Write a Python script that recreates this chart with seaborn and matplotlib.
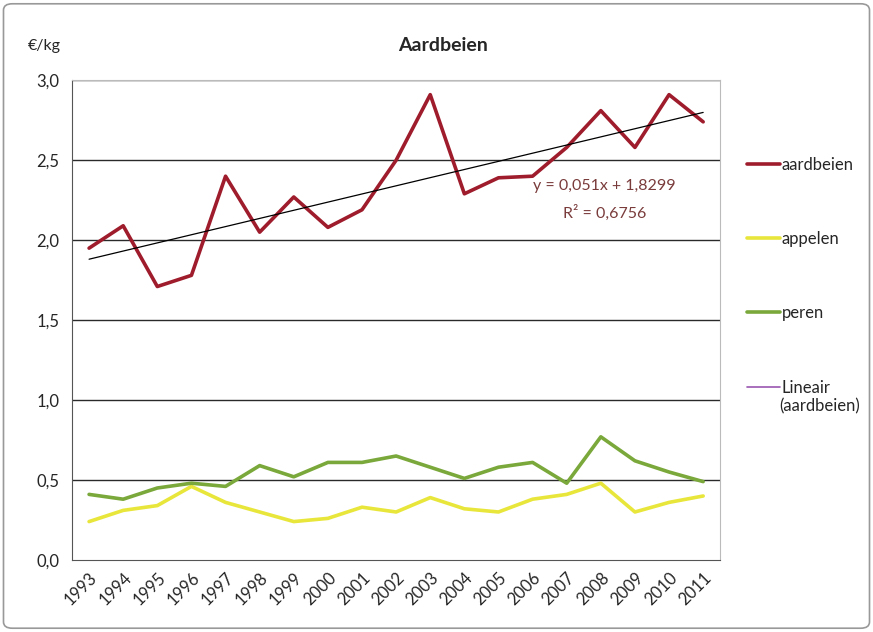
import numpy as np
import pandas as pd
import matplotlib
matplotlib.use("Agg")
import matplotlib.pyplot as plt
import seaborn as sns
from matplotlib.lines import Line2D
from matplotlib.patches import FancyBboxPatch

# Data (prices in euro per kg)
years = [str(y) for y in range(1993, 2012)]
aardbeien = [1.95, 2.09, 1.71, 1.78, 2.40, 2.05, 2.27, 2.08, 2.19, 2.50,
             2.91, 2.29, 2.39, 2.40, 2.58, 2.81, 2.58, 2.91, 2.74]
appelen = [0.24, 0.31, 0.34, 0.46, 0.36, 0.30, 0.24, 0.26, 0.33, 0.30,
           0.39, 0.32, 0.30, 0.38, 0.41, 0.48, 0.30, 0.36, 0.40]
peren = [0.41, 0.38, 0.45, 0.48, 0.46, 0.59, 0.52, 0.61, 0.61, 0.65,
         0.58, 0.51, 0.58, 0.61, 0.48, 0.77, 0.62, 0.55, 0.49]

# trendline from the chart label
slope = 0.051
intercept = 1.8299
r2 = 0.6756

colors = {"aardbeien": "#9e1c2c", "appelen": "#e8e63a", "peren": "#7aa83a"}

df = pd.DataFrame({"jaar": years * 3,
                   "prijs": aardbeien + appelen + peren,
                   "soort": ["aardbeien"] * 19 + ["appelen"] * 19 + ["peren"] * 19})
df["x"] = np.tile(np.arange(len(years)), 3)

sns.set_style("white")
plt.rcParams["font.family"] = ["Lato", "DejaVu Sans"]

fig = plt.figure(figsize=(8.73, 6.32), dpi=100)
ax = fig.add_axes([0.0825, 0.114, 0.7425, 0.759])

# grid lines
for g in np.arange(0.5, 3.01, 0.5):
    ax.axhline(g, color="#2a2a2a", lw=1.0, zorder=1)

sns.lineplot(data=df, x="x", y="prijs", hue="soort", palette=colors,
             linewidth=2.6, ax=ax, legend=False, zorder=3)

xs = np.arange(len(years))
trend = slope * (xs + 1) + intercept
ax.plot(xs, trend, color="black", lw=0.9, zorder=4)

ax.text(15.1, 2.34, "y = 0,051x + 1,8299", color="#7a3b3b", fontsize=11.5, ha="center", va="center")
ax.text(15.1, 2.17, f"R² = {r2:.4f}".replace(".", ","), color="#7a3b3b", fontsize=11.5,
        ha="center", va="center")

ax.set_xlim(-0.5, len(years) - 0.5)
ax.set_ylim(0, 3.0)
ax.set_yticks(np.arange(0, 3.01, 0.5))
ax.set_yticklabels([f"{v:.1f}".replace(".", ",") for v in np.arange(0, 3.01, 0.5)], fontsize=12)
ax.set_xticks(xs)
ax.set_xticklabels(years, rotation=45, ha="right", rotation_mode="anchor", fontsize=12)
ax.set_xticks(np.arange(-0.5, len(years)), minor=True)
ax.tick_params(axis="x", which="major", length=0, pad=7)
ax.tick_params(axis="x", which="minor", length=5, direction="out", color="#444")
ax.tick_params(axis="y", length=5, direction="out", color="#444", pad=4)
ax.set_xlabel("")
ax.set_ylabel("")
for side in ["left", "bottom"]:
    ax.spines[side].set_color("#555")
for side in ["top", "right"]:
    ax.spines[side].set_color("#bbbbbb")

fig.text(0.507, 0.928, "Aardbeien", fontsize=14, fontweight="bold", ha="center", va="center")
fig.text(0.032, 0.928, "€/kg", fontsize=11.5, ha="left", va="center")

handles = [Line2D([], [], color=colors["aardbeien"], lw=2.6),
           Line2D([], [], color=colors["appelen"], lw=2.6),
           Line2D([], [], color=colors["peren"], lw=2.6),
           Line2D([], [], color="#9a55b0", lw=1.2)]
labels = ["aardbeien", "appelen", "peren", "Lineair"]
fig.legend(handles, labels, loc="upper left", bbox_to_anchor=(0.838, 0.776),
           frameon=False, fontsize=12, handlelength=2.0, handletextpad=0.1,
           labelspacing=3.5)
fig.text(0.893, 0.357, "(aardbeien)", fontsize=12, ha="left", va="center")

fig.patches.append(FancyBboxPatch((0.004, 0.006), 0.992, 0.988, boxstyle="round,pad=0,rounding_size=0.01",
                                  transform=fig.transFigure, fill=False, edgecolor="#999", lw=1.2))

fig.savefig("out.png", dpi=100)
